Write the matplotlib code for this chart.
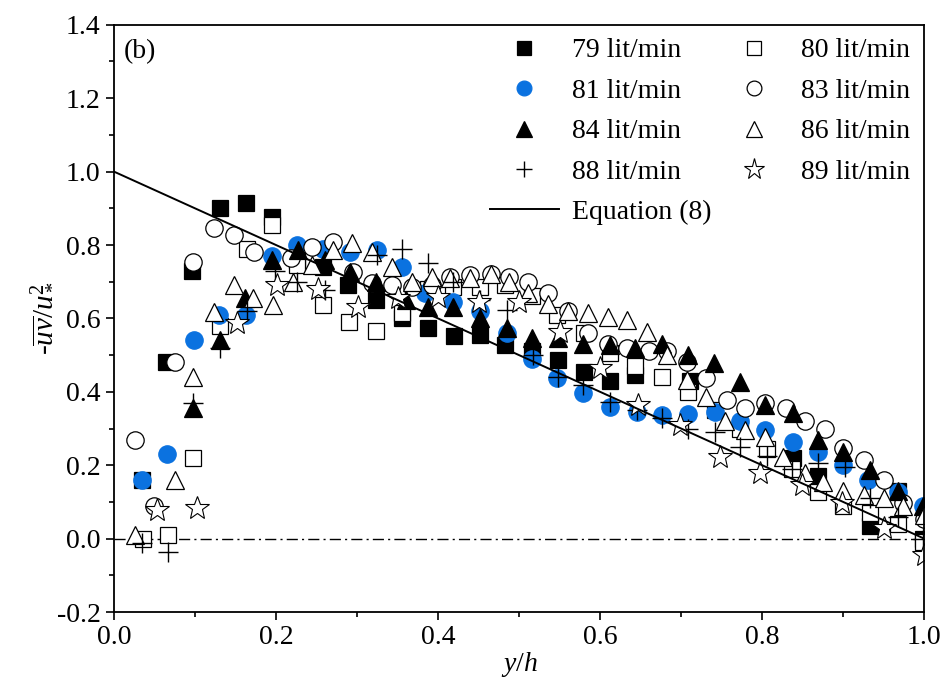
import matplotlib
matplotlib.use("Agg")
import matplotlib.pyplot as plt
from matplotlib.ticker import MultipleLocator

plt.rcParams["font.family"] = ["Liberation Serif", "DejaVu Serif"]
plt.rcParams["mathtext.fontset"] = "custom"
plt.rcParams["mathtext.rm"] = "Liberation Serif"
plt.rcParams["mathtext.it"] = "Liberation Serif:italic"
plt.rcParams["mathtext.bf"] = "Liberation Serif:bold"

# Reynolds shear stress profiles, -uv/u*^2 versus y/h, for each flow rate
x79 = [0.035, 0.064, 0.097, 0.131, 0.163, 0.195, 0.226, 0.258, 0.289, 0.323, 0.355, 0.388,
       0.420, 0.452, 0.483, 0.516, 0.548, 0.580, 0.612, 0.643, 0.711, 0.838, 0.869, 0.933,
       0.967, 0.998]
y79 = [0.16, 0.48, 0.73, 0.90, 0.915, 0.875, 0.76, 0.74, 0.69, 0.65, 0.60, 0.573,
       0.552, 0.555, 0.527, 0.51, 0.486, 0.454, 0.43, 0.445, 0.43, 0.22, 0.17, 0.035,
       0.13, 0.0]

x80 = [0.036, 0.067, 0.098, 0.131, 0.164, 0.195, 0.226, 0.258, 0.290, 0.323, 0.355, 0.388,
       0.419, 0.452, 0.483, 0.516, 0.547, 0.580, 0.612, 0.643, 0.676, 0.709, 0.742, 0.773,
       0.806, 0.837, 0.869, 0.900, 0.933, 0.967, 0.998]
y80 = [0.0, 0.01, 0.22, 0.58, 0.79, 0.855, 0.745, 0.636, 0.59, 0.565, 0.615, 0.68,
       0.685, 0.685, 0.69, 0.66, 0.61, 0.56, 0.505, 0.47, 0.44, 0.40, 0.35, 0.30,
       0.245, 0.19, 0.127, 0.09, 0.07, 0.04, -0.01]

x81 = [0.035, 0.065, 0.099, 0.130, 0.163, 0.195, 0.226, 0.258, 0.291, 0.325, 0.355, 0.384,
       0.419, 0.452, 0.485, 0.516, 0.547, 0.579, 0.612, 0.646, 0.676, 0.709, 0.742, 0.773,
       0.804, 0.838, 0.869, 0.900, 0.931, 0.967, 0.998]
y81 = [0.16, 0.23, 0.54, 0.61, 0.61, 0.77, 0.80, 0.79, 0.78, 0.786, 0.74, 0.67,
       0.645, 0.62, 0.56, 0.49, 0.437, 0.396, 0.36, 0.345, 0.337, 0.34, 0.345, 0.32,
       0.296, 0.263, 0.236, 0.20, 0.16, 0.127, 0.09]

x83 = [0.026, 0.050, 0.075, 0.098, 0.123, 0.148, 0.173, 0.218, 0.244, 0.270, 0.295, 0.318,
       0.343, 0.368, 0.392, 0.415, 0.440, 0.465, 0.487, 0.511, 0.536, 0.560, 0.585, 0.610,
       0.633, 0.660, 0.682, 0.707, 0.730, 0.757, 0.779, 0.804, 0.829, 0.853, 0.878, 0.900,
       0.925, 0.950, 0.974, 1.000]
y83 = [0.27, 0.09, 0.48, 0.755, 0.845, 0.826, 0.78, 0.764, 0.795, 0.808, 0.727, 0.696,
       0.69, 0.686, 0.69, 0.713, 0.718, 0.72, 0.713, 0.70, 0.67, 0.62, 0.56, 0.53,
       0.52, 0.51, 0.51, 0.48, 0.437, 0.377, 0.355, 0.37, 0.355, 0.32, 0.30, 0.246,
       0.214, 0.16, 0.097, 0.055]

x84 = [0.098, 0.131, 0.162, 0.195, 0.227, 0.260, 0.291, 0.323, 0.360, 0.388, 0.419, 0.452,
       0.485, 0.516, 0.548, 0.579, 0.612, 0.643, 0.676, 0.709, 0.740, 0.773, 0.804, 0.838,
       0.869, 0.900, 0.933, 0.967, 0.998]
y84 = [0.355, 0.54, 0.655, 0.76, 0.786, 0.758, 0.727, 0.70, 0.65, 0.63, 0.63, 0.60,
       0.573, 0.546, 0.546, 0.53, 0.527, 0.52, 0.53, 0.50, 0.478, 0.427, 0.364, 0.342,
       0.268, 0.236, 0.187, 0.13, 0.09]

x86 = [0.026, 0.075, 0.098, 0.123, 0.148, 0.172, 0.196, 0.221, 0.244, 0.270, 0.294, 0.318,
       0.343, 0.368, 0.392, 0.415, 0.440, 0.465, 0.487, 0.511, 0.536, 0.560, 0.585, 0.610,
       0.633, 0.658, 0.683, 0.707, 0.730, 0.754, 0.779, 0.804, 0.826, 0.853, 0.875, 0.900,
       0.925, 0.950, 0.974, 1.000]
y86 = [0.01, 0.16, 0.44, 0.617, 0.69, 0.655, 0.636, 0.70, 0.745, 0.786, 0.805, 0.78,
       0.74, 0.70, 0.713, 0.71, 0.71, 0.72, 0.70, 0.67, 0.64, 0.62, 0.614, 0.603,
       0.595, 0.563, 0.50, 0.432, 0.386, 0.32, 0.296, 0.277, 0.223, 0.178, 0.155, 0.13,
       0.12, 0.11, 0.09, 0.064]

x88 = [0.035, 0.067, 0.098, 0.131, 0.164, 0.199, 0.226, 0.260, 0.325, 0.356, 0.388, 0.419,
       0.452, 0.485, 0.517, 0.548, 0.579, 0.612, 0.646, 0.676, 0.709, 0.742, 0.773, 0.806,
       0.837, 0.869, 0.902, 0.933, 0.967, 0.998]
y88 = [-0.012, -0.037, 0.37, 0.52, 0.62, 0.73, 0.70, 0.677, 0.772, 0.79, 0.75, 0.70,
       0.65, 0.622, 0.50, 0.44, 0.418, 0.372, 0.35, 0.33, 0.30, 0.29, 0.25, 0.225,
       0.19, 0.205, 0.195, 0.11, 0.06, 0.0]

x89 = [0.053, 0.102, 0.152, 0.201, 0.252, 0.301, 0.350, 0.400, 0.450, 0.500, 0.550, 0.600,
       0.647, 0.699, 0.748, 0.797, 0.849, 0.899, 0.950, 1.000]
y89 = [0.078, 0.083, 0.587, 0.69, 0.68, 0.63, 0.655, 0.658, 0.645, 0.645, 0.563, 0.464,
       0.364, 0.31, 0.223, 0.18, 0.146, 0.097, 0.028, -0.045]

# Linear total shear stress distribution, Equation (8)
x_eq = [0.0, 1.0]
y_eq = [1.0, 0.0]

labels = ["79 lit/min", "80 lit/min", "81 lit/min", "83 lit/min",
          "84 lit/min", "86 lit/min", "88 lit/min", "89 lit/min"]

BLUE = "#0b72e0"

fig = plt.figure(figsize=(9.49, 6.87), dpi=100)
ax = fig.add_axes([0.120, 0.109, 0.854, 0.855])

ax.plot([0, 1], [0, 0], color="black", lw=1.0, ls=(0, (8, 3, 1.5, 3)), zorder=1)

ew = 0.9
h79, = ax.plot(x79, y79, ls="none", marker="s", ms=11.5, mfc="black", mec="black", mew=ew, label=labels[0], zorder=2)
h80, = ax.plot(x80, y80, ls="none", marker="s", ms=11.5, mfc="white", mec="black", mew=ew, label=labels[1], zorder=2)
h81, = ax.plot(x81, y81, ls="none", marker="o", ms=12.5, mfc=BLUE, mec=BLUE, mew=ew, label=labels[2], zorder=2)
h83, = ax.plot(x83, y83, ls="none", marker="o", ms=12.5, mfc="white", mec="black", mew=ew, label=labels[3], zorder=2)
h84, = ax.plot(x84, y84, ls="none", marker="^", ms=13, mfc="black", mec="black", mew=ew, label=labels[4], zorder=2)
h86, = ax.plot(x86, y86, ls="none", marker="^", ms=13, mfc="white", mec="black", mew=ew, label=labels[5], zorder=2)
h88, = ax.plot(x88, y88, ls="none", marker="+", ms=14, mfc="none", mec="black", mew=1.0, label=labels[6], zorder=2)
h89, = ax.plot(x89, y89, ls="none", marker="*", ms=18, mfc="white", mec="black", mew=0.8, label=labels[7], zorder=2)
heq, = ax.plot(x_eq, y_eq, color="black", lw=1.4, label="Equation (8)", zorder=3)

ax.set_xlim(0, 1.0)
ax.set_ylim(-0.2, 1.4)
ax.xaxis.set_major_locator(MultipleLocator(0.2))
ax.xaxis.set_minor_locator(MultipleLocator(0.1))
ax.yaxis.set_major_locator(MultipleLocator(0.2))
ax.yaxis.set_minor_locator(MultipleLocator(0.1))
ax.xaxis.set_major_formatter(plt.FuncFormatter(lambda v, p: f"{v:.1f}"))
ax.yaxis.set_major_formatter(plt.FuncFormatter(lambda v, p: f"{v:.1f}"))
ax.tick_params(which="major", direction="out", length=6, width=1.2, labelsize=20,
               top=False, right=False)
ax.tick_params(which="minor", direction="out", length=3.5, width=1.2, top=False, right=False)
for s in ax.spines.values():
    s.set_linewidth(1.3)

ax.set_xlabel(r"$y/h$", fontsize=20, labelpad=0)
ax.set_ylabel(r"-$\overline{uv}/u_*^2$", fontsize=21, labelpad=2)

ax.text(0.012, 0.975, "(b)", transform=ax.transAxes, fontsize=20, va="top", ha="left")

handles = [h79, h81, h84, h88, heq, h80, h83, h86, h89]
ax.legend(handles=handles, labels=[h.get_label() for h in handles], ncol=2,
          loc="upper right", bbox_to_anchor=(0.995, 0.994), frameon=False, fontsize=20,
          markerscale=0.85, handlelength=2.5, handletextpad=0.45, columnspacing=0.3,
          labelspacing=0.54, borderaxespad=0.2, borderpad=0.15)

fig.savefig("out.png", dpi=100)
